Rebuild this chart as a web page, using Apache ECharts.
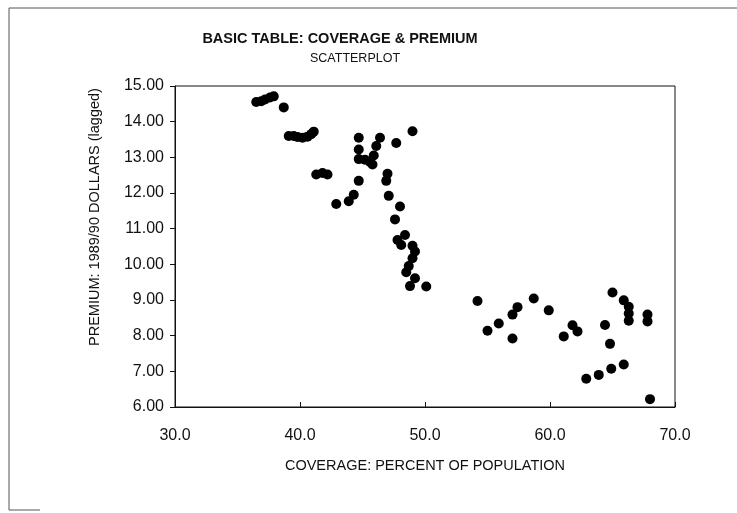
<!DOCTYPE html>
<html>
<head>
<meta charset="utf-8">
<script src="https://cdn.jsdelivr.net/npm/echarts@6/dist/echarts.min.js"></script>
<style>
html,body{margin:0;padding:0;background:#fff;}
#chart{width:737px;height:513px;}
</style>
</head>
<body>
<div id="chart"></div>
<script>
var titleText = 'BASIC TABLE: COVERAGE & PREMIUM';
var subtitleText = 'SCATTERPLOT';
var xAxisName = 'COVERAGE: PERCENT OF POPULATION';
var yAxisName = 'PREMIUM: 1989/90 DOLLARS (lagged)';
var xTicks = [30, 40, 50, 60, 70];
var yTicks = [6, 7, 8, 9, 10, 11, 12, 13, 14, 15];

var coverage = [
  36.5, 36.9, 37.2, 37.6, 37.9, 38.7,
  39.1, 39.5, 39.8, 40.2, 40.6, 40.9, 41.1,
  41.3, 41.8, 42.2,
  42.9, 43.9, 44.3, 44.7,
  44.7, 44.7, 44.7, 45.2, 45.6, 45.8, 45.9, 46.1, 46.4,
  47.7, 49.0,
  47.0, 46.9, 47.1, 48.0, 47.6,
  47.8, 48.4, 48.1, 49.0, 49.2, 49.0, 48.7, 48.5, 49.2, 48.8, 50.1,
  54.2, 55.0, 55.9, 57.0, 57.0, 57.4, 58.7, 59.9, 61.1, 61.8, 62.2,
  64.4, 65.0, 64.8, 65.9, 66.3, 66.3, 66.3, 67.8, 67.8,
  62.9, 63.9, 64.9, 65.9, 68.0
];
var premium = [
  14.55, 14.57, 14.62, 14.68, 14.71, 14.40,
  13.60, 13.60, 13.57, 13.55, 13.58, 13.65, 13.72,
  12.52, 12.56, 12.52,
  11.69, 11.77, 11.95, 12.34,
  13.55, 13.22, 12.95, 12.93, 12.87, 12.80, 13.05, 13.32, 13.55,
  13.40, 13.73,
  12.54, 12.34, 11.92, 11.62, 11.26,
  10.68, 10.82, 10.54, 10.52, 10.36, 10.17, 9.95, 9.78, 9.61, 9.39, 9.38,
  8.97, 8.14, 8.34, 7.92, 8.59, 8.80, 9.04, 8.71, 7.98, 8.29, 8.12,
  8.30, 9.21, 7.77, 8.99, 8.81, 8.62, 8.42, 8.59, 8.40,
  6.79, 6.90, 7.07, 7.19, 6.22
];

var points = coverage.map(function (x, i) { return [x, premium[i]]; });
var font = 'Liberation Sans, Arial, sans-serif';

var chart = echarts.init(document.getElementById('chart'));
chart.setOption({
  backgroundColor: '#fff',
  animation: false,
  title: [
    { text: titleText, left: 335, top: 26, textAlign: 'center',
      textStyle: { fontFamily: font, fontSize: 14.5, fontWeight: 'bold', color: '#111' } },
    { text: subtitleText, left: 350, top: 47, textAlign: 'center',
      textStyle: { fontFamily: font, fontSize: 12.5, fontWeight: 'normal', color: '#111' } }
  ],
  graphic: [
    { type: 'line', shape: { x1: 9, y1: 8, x2: 737, y2: 8 },
      style: { stroke: '#555', lineWidth: 1 }, silent: true },
    { type: 'line', shape: { x1: 9, y1: 8, x2: 9, y2: 510 },
      style: { stroke: '#555', lineWidth: 1 }, silent: true },
    { type: 'line', shape: { x1: 9, y1: 510, x2: 40, y2: 510 },
      style: { stroke: '#555', lineWidth: 1 }, silent: true },
    { type: 'text', x: 95, y: 217, rotation: Math.PI / 2,
      style: { text: yAxisName, fontFamily: font, fontSize: 14.5, fill: '#111',
        align: 'center', verticalAlign: 'middle' }, silent: true }
  ],
  grid: { left: 175, right: 62, top: 86, bottom: 106, show: true, borderColor: '#111', borderWidth: 1, backgroundColor: 'transparent' },
  xAxis: {
    type: 'value', min: xTicks[0], max: xTicks[xTicks.length - 1], interval: 10,
    name: xAxisName, nameLocation: 'middle', nameGap: 51,
    nameTextStyle: { fontFamily: font, fontSize: 14.5, color: '#111' },
    axisLine: { show: true, lineStyle: { color: '#111', width: 1 } },
    axisTick: { show: true, inside: true, length: 5, lineStyle: { color: '#111' } },
    axisLabel: { fontFamily: font, fontSize: 16, color: '#111', margin: 21,
      formatter: function (v) { return v.toFixed(1); } },
    splitLine: { show: false }
  },
  yAxis: {
    type: 'value', min: yTicks[0], max: yTicks[yTicks.length - 1], interval: 1,
    axisLine: { show: true, lineStyle: { color: '#111', width: 1 } },
    axisTick: { show: true, inside: false, length: 5, lineStyle: { color: '#111' } },
    axisLabel: { fontFamily: font, fontSize: 16, color: '#111', margin: 11,
      formatter: function (v) { return v.toFixed(2); } },
    splitLine: { show: false }
  },
  series: [{
    type: 'scatter',
    data: points,
    symbol: 'circle',
    symbolSize: 10,
    itemStyle: { color: '#000', opacity: 1 }
  }]
});
</script>
</body>
</html>
